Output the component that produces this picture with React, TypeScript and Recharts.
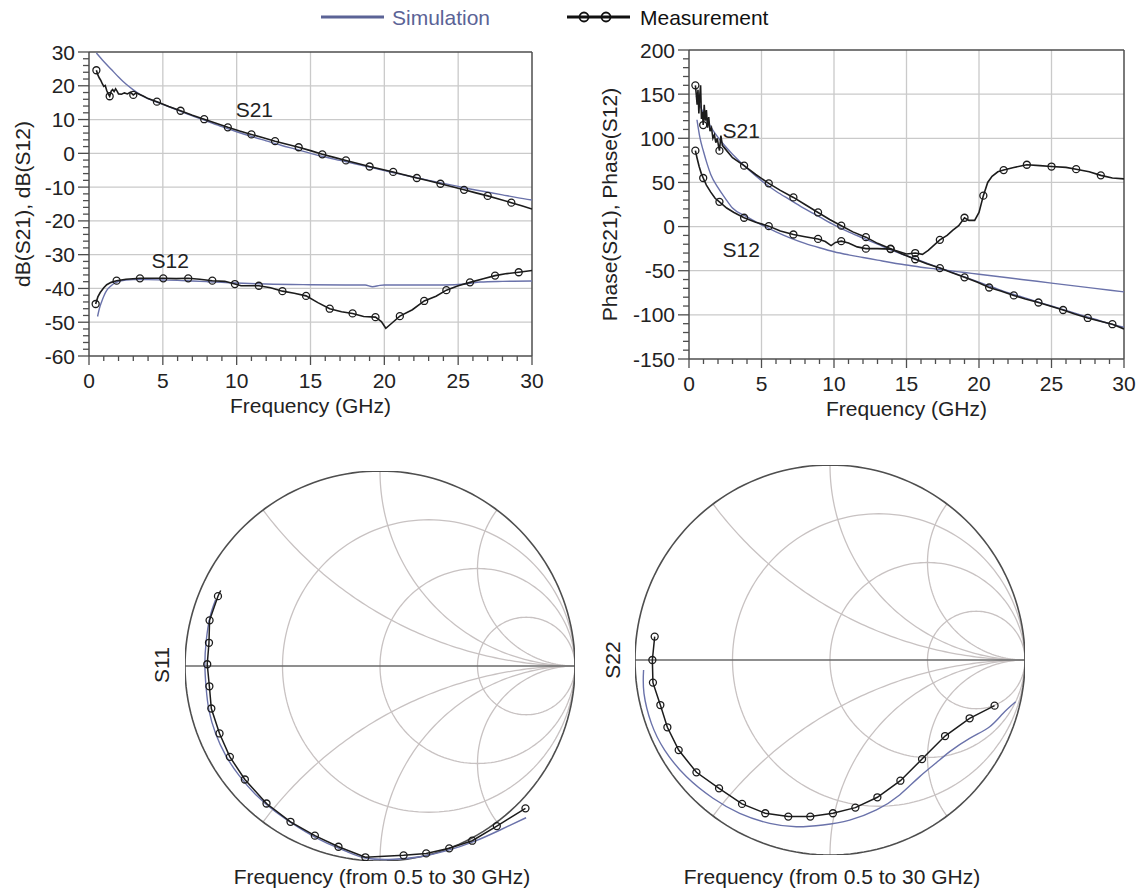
import React from 'react';
import { ComposedChart, Line, Scatter, XAxis, YAxis, ReferenceLine, ReferenceDot } from 'recharts';

const FONT = '"Liberation Sans", Arial, Helvetica, sans-serif';
const SIM = '#6a72aa';
const SIM_TXT = '#5b6396';
const MEAS = '#1c1c1c';
const AXIS = '#4e4e4e';
const GRID = '#cacaca';
const SMITH_GRID = '#c8c2c2';
const TXT = '#222222';

// ---------- Panel 1: dB(S21), dB(S12) ----------
const dbS21Sim = [[0.5,29.7],[1,27.2],[1.5,24.9],[2,22.6],[2.5,20.5],[3,18.8],[3.5,17.3],[4,16.2],[5,14.5],[6,12.8],[7,11.1],[8,9.5],[9,7.9],[10,6.4],[11,5.0],[12,3.7],[13,2.4],[14,1.2],[15,0.0],[16,-1.1],[17,-2.1],[18,-3.1],[19,-4.1],[20,-5.1],[21,-6.1],[22,-7.0],[23,-8.0],[24,-8.9],[25,-9.8],[26,-10.7],[27,-11.5],[28,-12.3],[29,-13.1],[30,-13.8]];
const dbS21Meas = [[0.5,24.6],[0.6,23.2],[0.7,22.3],[0.8,21.6],[0.9,20.6],[1.0,19.8],[1.1,20.1],[1.2,18.6],[1.3,17.6],[1.4,16.9],[1.5,18.4],[1.6,18.9],[1.7,18.3],[1.8,19.1],[1.9,18.4],[2.0,17.6],[2.2,17.5],[2.4,17.9],[2.6,17.6],[2.8,18.1],[3.0,17.3],[3.2,17.9],[3.4,17.5],[3.7,16.9],[4.0,16.2],[4.6,15.3],[5.4,13.9],[6.2,12.6],[7.0,11.3],[7.8,10.1],[8.6,8.9],[9.4,7.7],[10.2,6.6],[11.0,5.6],[11.8,4.6],[12.6,3.6],[13.4,2.7],[14.2,1.8],[15.0,0.8],[15.8,-0.3],[16.6,-1.2],[17.4,-2.1],[18.2,-3.0],[19.0,-3.9],[19.8,-4.7],[20.6,-5.5],[21.4,-6.4],[22.2,-7.3],[23.0,-8.1],[23.8,-9.0],[24.6,-9.9],[25.4,-10.8],[26.2,-11.7],[27.0,-12.6],[27.8,-13.6],[28.6,-14.6],[29.3,-15.5],[30,-16.5]];
const dbS21Markers = [[0.5,24.6],[1.4,16.9],[3.0,17.3],[4.6,15.3],[6.2,12.6],[7.8,10.1],[9.4,7.7],[11.0,5.6],[12.6,3.6],[14.2,1.8],[15.8,-0.3],[17.4,-2.1],[19.0,-3.9],[20.6,-5.5],[22.2,-7.3],[23.8,-9.0],[25.4,-10.8],[27.0,-12.6],[28.6,-14.6]];
const dbS12Sim = [[0.58,-48.3],[0.7,-46],[0.85,-44],[1.0,-42.3],[1.2,-40.6],[1.5,-39.2],[1.8,-38.3],[2.1,-37.8],[2.5,-37.5],[3,-37.4],[4,-37.4],[5,-37.5],[6,-37.6],[7,-37.8],[8,-38.0],[9,-38.2],[10,-38.4],[12,-38.7],[15,-38.9],[18,-39.0],[18.7,-39.0],[19.2,-39.5],[19.7,-39.1],[20,-39.0],[24,-39.0],[25.5,-38.7],[26.5,-38.1],[28,-37.9],[30,-37.8]];
const dbS12Meas = [[0.45,-44.6],[0.6,-42.5],[0.76,-41.2],[1.0,-39.8],[1.2,-38.9],[1.5,-38.2],[1.87,-37.7],[2.5,-37.3],[3.45,-37.0],[4.2,-37.0],[5.03,-37.0],[5.9,-37.1],[6.72,-37.0],[7.5,-37.3],[8.35,-37.7],[9.2,-37.9],[9.88,-38.7],[10.3,-39.2],[11.5,-39.2],[12.3,-39.8],[13.1,-40.8],[13.9,-41.4],[14.7,-42.2],[15.5,-44.2],[16.3,-46.0],[17.1,-46.9],[17.85,-47.4],[18.6,-48.3],[19.4,-48.5],[19.8,-49.8],[20.1,-51.8],[20.5,-50.3],[21.05,-48.2],[21.9,-46.3],[22.7,-43.7],[23.5,-42.3],[24.2,-40.5],[25.0,-39.2],[25.8,-38.2],[26.7,-37.1],[27.5,-36.2],[28.3,-35.6],[29.1,-35.2],[30,-34.7]];
const dbS12Markers = [[0.45,-44.6],[1.87,-37.7],[3.45,-37.0],[5.03,-37.0],[6.72,-37.0],[8.35,-37.7],[9.88,-38.7],[11.5,-39.2],[13.1,-40.8],[14.7,-42.2],[16.3,-46.0],[17.85,-47.4],[19.4,-48.5],[21.05,-48.2],[22.7,-43.7],[24.2,-40.5],[25.8,-38.2],[27.5,-36.2],[29.1,-35.2]];

// ---------- Panel 2: Phase(S21), Phase(S12) ----------
const phS21Sim = [[0.5,148],[1,128],[1.5,113],[2,101],[2.5,91],[3,82],[4,66],[5,52],[6,40],[7,30],[8,20],[9,11],[10,2],[11,-6],[12,-13],[13,-20],[14,-27],[15,-33],[16,-39],[17,-45],[18,-51],[19,-57],[20,-63],[21,-69],[22,-75],[23,-80],[24,-85],[25,-90],[26,-95],[27,-100],[28,-105],[29,-110],[30,-114]];
const phS21Meas = [[0.44,160],[0.5,150],[0.56,138],[0.62,155],[0.68,128],[0.74,148],[0.8,160],[0.86,122],[0.92,130],[0.98,115],[1.05,138],[1.12,120],[1.2,132],[1.28,112],[1.36,124],[1.45,108],[1.55,112],[1.65,100],[1.75,104],[1.85,95],[1.95,100],[2.05,90],[2.1,86],[2.2,103],[2.3,92],[2.5,88],[3.0,78],[3.8,69],[4.6,59],[5.5,49],[6.3,41],[7.2,33],[8.0,25],[8.9,16],[9.7,8],[10.5,1],[11.3,-6],[12.2,-12],[13.0,-19],[13.9,-25],[14.7,-31],[15.6,-37],[16.4,-42],[17.3,-47],[18.1,-52],[19.0,-57.5],[19.9,-63],[20.7,-69],[21.5,-73],[22.4,-78],[23.2,-82],[24.1,-86],[24.9,-90],[25.8,-94.5],[26.6,-99],[27.5,-103.5],[28.3,-107],[29.2,-110.6],[30,-116]];
const phS21Markers = [[0.44,160],[0.98,115],[2.1,86],[3.8,69],[5.5,49],[7.2,33],[8.9,16],[10.5,1],[12.2,-12],[13.9,-25],[15.6,-37],[17.3,-47],[19.0,-57.5],[20.7,-69],[22.4,-78],[24.1,-86],[25.8,-94.5],[27.5,-103.5],[29.2,-110.6]];
const phS12Sim = [[0.55,121],[0.75,101],[1.0,85],[1.25,71],[1.5,59],[2.0,44],[2.5,32],[3.0,21],[4.0,11],[5.0,2],[6.0,-6],[7.0,-13],[8.0,-19],[9.0,-24],[10.0,-28.5],[11.0,-32],[12.0,-35],[13.0,-38],[14.0,-41],[15.0,-43.5],[16.0,-46],[17.0,-48],[18.0,-50],[19.0,-52],[20.0,-54],[22.0,-58],[24.0,-62],[26.0,-66],[28.0,-70],[30.0,-74]];
const phS12Meas = [[0.44,86],[0.55,78],[0.7,68],[0.85,60],[0.98,55],[1.2,47],[1.5,39],[1.8,32],[2.1,28],[2.6,21],[3.1,16],[3.8,10],[4.6,5],[5.5,0.5],[6.3,-5],[7.2,-9],[8.0,-11.5],[8.9,-14],[9.4,-17],[9.8,-21.5],[10.1,-18],[10.5,-16.5],[11.0,-18.5],[11.6,-23],[12.2,-25],[13.0,-25],[13.9,-25.5],[14.4,-28],[15.0,-31],[15.6,-30],[16.1,-31.5],[16.5,-27],[17.3,-15],[17.8,-10],[18.2,-4],[18.6,1],[19.0,10],[19.3,7],[19.7,7],[20.0,16],[20.3,35],[20.6,50],[20.9,57],[21.3,62],[21.7,64],[22.4,67],[23.3,70],[24.2,69],[25.0,68],[26.0,67],[26.7,65],[27.6,62],[28.4,58],[29.2,55],[30,54]];
const phS12Markers = [[0.44,86],[0.98,55],[2.1,28],[3.8,10],[5.5,0.5],[7.2,-9],[8.9,-14],[10.5,-16.5],[12.2,-25],[13.9,-25.5],[15.6,-30],[17.3,-15],[19.0,10],[20.3,35],[21.7,64],[23.3,70],[25.0,68],[26.7,65],[28.4,58]];

// ---------- Smith charts (reflection coefficient, re/im) ----------
const s11Meas = [[-0.817,0.387],[-0.831,0.358],[-0.874,0.234],[-0.877,0.119],[-0.886,0.009],[-0.875,-0.104],[-0.865,-0.218],[-0.823,-0.346],[-0.770,-0.466],[-0.693,-0.582],[-0.582,-0.705],[-0.459,-0.799],[-0.334,-0.870],[-0.213,-0.927],[-0.075,-0.981],[0.121,-0.971],[0.237,-0.961],[0.355,-0.935],[0.473,-0.896],[0.599,-0.821],[0.746,-0.730]];
const s11Markers = [[-0.831,0.358],[-0.874,0.234],[-0.877,0.119],[-0.886,0.009],[-0.875,-0.104],[-0.865,-0.218],[-0.823,-0.346],[-0.770,-0.466],[-0.693,-0.582],[-0.582,-0.705],[-0.459,-0.799],[-0.334,-0.870],[-0.213,-0.927],[-0.075,-0.981],[0.121,-0.971],[0.237,-0.961],[0.355,-0.935],[0.473,-0.896],[0.599,-0.821],[0.746,-0.730]];
const s11Sim = [[-0.843,0.340],[-0.872,0.251],[-0.891,0.131],[-0.898,0.012],[-0.892,-0.108],[-0.877,-0.227],[-0.843,-0.346],[-0.792,-0.457],[-0.724,-0.560],[-0.638,-0.659],[-0.536,-0.747],[-0.416,-0.829],[-0.288,-0.901],[-0.169,-0.952],[-0.067,-0.986],[0.070,-0.991],[0.206,-0.978],[0.343,-0.947],[0.480,-0.901],[0.616,-0.841],[0.749,-0.778]];
const s22Meas = [[-0.899,0.120],[-0.911,0],[-0.908,-0.116],[-0.870,-0.231],[-0.834,-0.345],[-0.776,-0.462],[-0.685,-0.576],[-0.569,-0.658],[-0.451,-0.738],[-0.332,-0.786],[-0.214,-0.803],[-0.101,-0.803],[0.015,-0.786],[0.130,-0.757],[0.243,-0.704],[0.361,-0.619],[0.472,-0.508],[0.590,-0.390],[0.716,-0.299],[0.844,-0.234]];
const s22Markers = s22Meas;
const s22Sim = [[-0.956,-0.051],[-0.954,-0.171],[-0.916,-0.325],[-0.848,-0.462],[-0.737,-0.598],[-0.600,-0.709],[-0.463,-0.786],[-0.309,-0.838],[-0.173,-0.855],[-0.036,-0.846],[0.101,-0.821],[0.238,-0.769],[0.357,-0.692],[0.460,-0.598],[0.562,-0.513],[0.614,-0.470],[0.716,-0.402],[0.819,-0.342],[0.887,-0.274],[0.952,-0.214]];

// ---------- axes / ticks ----------
const xMajor = [0, 5, 10, 15, 20, 25, 30];
const xMinor = Array.from({ length: 31 }, (_, i) => i);
const dbMajor = [-60, -50, -40, -30, -20, -10, 0, 10, 20, 30];
const dbMinor = Array.from({ length: 46 }, (_, i) => -60 + i * 2);
const phMajor = [-150, -100, -50, 0, 50, 100, 150, 200];
const phMinor = Array.from({ length: 36 }, (_, i) => -150 + i * 10);
const SMITH_R = [1 / 3, 1, 3];
const SMITH_X = [0.5, 1, 2];

const toXY = (a: number[][]) => a.map(([x, y]) => ({ x, y }));

const circlePts = (r: number) => {
  const c = r / (1 + r), R = 1 / (1 + r);
  return Array.from({ length: 181 }, (_, i) => {
    const t = (i * 2 * Math.PI) / 180;
    return { x: c + R * Math.cos(t), y: R * Math.sin(t) };
  });
};
const arcPts = (xv: number, sign: number) => {
  const cy = 1 / xv, R = 1 / xv;
  const px = (xv * xv - 1) / (xv * xv + 1), py = (2 * xv) / (xv * xv + 1);
  let a0 = Math.atan2(py - cy, px - 1);
  if (a0 < 0) a0 += 2 * Math.PI;
  const a1 = 1.5 * Math.PI;
  return Array.from({ length: 91 }, (_, i) => {
    const a = a0 + ((a1 - a0) * i) / 90;
    return { x: 1 + R * Math.cos(a), y: sign * (cy + R * Math.sin(a)) };
  });
};

const Marker = (props: any) => {
  const { cx, cy } = props;
  if (cx == null || cy == null) return <g />;
  return <circle cx={cx} cy={cy} r={3.5} fill="none" stroke={MEAS} strokeWidth={1.3} />;
};

const makeXTick = (majors: number[]) => (props: any) => {
  const { x, y, payload } = props;
  const v = payload.value;
  const major = majors.includes(v);
  return (
    <g>
      <line x1={x} y1={y} x2={x} y2={y + (major ? 9 : 5)} stroke={AXIS} strokeWidth={1.3} />
      {major && (
        <text x={x} y={y + 32} textAnchor="middle" fontSize={21} fontFamily={FONT} fill={TXT}>
          {v}
        </text>
      )}
    </g>
  );
};
const makeYTick = (majors: number[]) => (props: any) => {
  const { x, y, payload } = props;
  const v = payload.value;
  const major = majors.includes(v);
  return (
    <g>
      <line x1={x - (major ? 11 : 6)} y1={y} x2={x} y2={y} stroke={AXIS} strokeWidth={1.3} />
      {major && (
        <text x={x - 14} y={y} dy="0.36em" textAnchor="end" fontSize={21} fontFamily={FONT} fill={TXT}>
          {v}
        </text>
      )}
    </g>
  );
};

type RectProps = {
  left: number; width: number; height: number; top: number; right: number; bottom: number;
  yWidth: number; xHeight: number; yDomain: [number, number]; yMinor: number[]; yMajor: number[];
  xTitle: string; yTitle: string; yTitleX: number;
  simA: number[][]; simB: number[][]; measA: number[][]; measB: number[][]; mkA: number[][]; mkB: number[][];
  labA: [number, number]; labB: [number, number];
};

function RectPanel(p: RectProps) {
  const hGrid = p.yMajor.filter((v) => v > p.yDomain[0] && v < p.yDomain[1]);
  const vGrid = xMajor.filter((v) => v > 0 && v < 30);
  return (
    <div style={{ position: 'absolute', left: p.left, top: 0 }}>
      <ComposedChart width={p.width} height={p.height} margin={{ top: p.top, right: p.right, bottom: p.bottom, left: 0 }}>
        <XAxis
          type="number" dataKey="x" domain={[0, 30]} ticks={xMinor} interval={0} allowDataOverflow
          tickSize={0} tickMargin={0} tickLine={false} tick={makeXTick(xMajor)}
          axisLine={{ stroke: AXIS, strokeWidth: 1.5 }} height={p.xHeight}
          label={(lp: any) => {
            const vb = lp.viewBox || {};
            return (
              <text x={vb.x + vb.width / 2} y={vb.y + 57} textAnchor="middle" fontSize={21} fontFamily={FONT} fill={TXT}>
                {p.xTitle}
              </text>
            );
          }}
        />
        <YAxis
          type="number" dataKey="y" domain={p.yDomain} ticks={p.yMinor} interval={0} allowDataOverflow
          tickSize={0} tickMargin={0} tickLine={false} tick={makeYTick(p.yMajor)}
          axisLine={{ stroke: AXIS, strokeWidth: 1.5 }} width={p.yWidth}
          label={(lp: any) => {
            const vb = lp.viewBox || {};
            const cx = p.yTitleX, cy = vb.y + vb.height / 2;
            return (
              <text x={cx} y={cy} dy="0.36em" transform={`rotate(-90 ${cx} ${cy})`} textAnchor="middle" fontSize={21} fontFamily={FONT} fill={TXT}>
                {p.yTitle}
              </text>
            );
          }}
        />
        {hGrid.map((v) => (
          <ReferenceLine key={'h' + v} y={v} stroke={GRID} strokeWidth={1.3} />
        ))}
        {vGrid.map((v) => (
          <ReferenceLine key={'v' + v} x={v} stroke={GRID} strokeWidth={1.3} />
        ))}
        <ReferenceLine y={p.yDomain[1]} stroke={AXIS} strokeWidth={1.5} />
        <ReferenceLine x={30} stroke={AXIS} strokeWidth={1.5} />
        <Line data={toXY(p.simA)} dataKey="y" type="monotone" stroke={SIM} strokeWidth={1.4} dot={false} isAnimationActive={false} />
        <Line data={toXY(p.simB)} dataKey="y" type="monotone" stroke={SIM} strokeWidth={1.4} dot={false} isAnimationActive={false} />
        <Line data={toXY(p.measA)} dataKey="y" type="linear" stroke={MEAS} strokeWidth={1.6} dot={false} isAnimationActive={false} />
        <Line data={toXY(p.measB)} dataKey="y" type="linear" stroke={MEAS} strokeWidth={1.6} dot={false} isAnimationActive={false} />
        <Scatter data={toXY(p.mkA)} dataKey="y" shape={Marker} isAnimationActive={false} />
        <Scatter data={toXY(p.mkB)} dataKey="y" shape={Marker} isAnimationActive={false} />
        <ReferenceDot x={p.labA[0]} y={p.labA[1]} r={0} fill="none" stroke="none"
          label={{ value: 'S21', position: 'center', fontSize: 21, fill: TXT, fontFamily: FONT }} />
        <ReferenceDot x={p.labB[0]} y={p.labB[1]} r={0} fill="none" stroke="none"
          label={{ value: 'S12', position: 'center', fontSize: 21, fill: TXT, fontFamily: FONT }} />
      </ComposedChart>
    </div>
  );
}

type SmithProps = {
  left: number; top: number; width: number; height: number;
  margin: { top: number; left: number; right: number; bottom: number };
  sim: number[][]; meas: number[][]; markers: number[][];
};

function SmithPanel(p: SmithProps) {
  const grid: { pts: { x: number; y: number }[]; k: string }[] = [];
  SMITH_R.forEach((r) => grid.push({ pts: circlePts(r), k: 'r' + r }));
  SMITH_X.forEach((xv) => {
    grid.push({ pts: arcPts(xv, 1), k: 'xp' + xv });
    grid.push({ pts: arcPts(xv, -1), k: 'xn' + xv });
  });
  return (
    <div style={{ position: 'absolute', left: p.left, top: p.top }}>
      <ComposedChart width={p.width} height={p.height} margin={p.margin}>
        <XAxis type="number" dataKey="x" domain={[-1, 1]} hide allowDataOverflow />
        <YAxis type="number" dataKey="y" domain={[-1, 1]} hide allowDataOverflow />
        {grid.map((g) => (
          <Line key={g.k} data={g.pts} dataKey="y" type="linear" stroke={SMITH_GRID} strokeWidth={1.3} dot={false} isAnimationActive={false} />
        ))}
        <ReferenceLine y={0} stroke="#6a6a6a" strokeWidth={1.5} />
        <Line data={circlePts(0)} dataKey="y" type="linear" stroke={AXIS} strokeWidth={1.6} dot={false} isAnimationActive={false} />
        <Line data={toXY(p.sim)} dataKey="y" type="natural" stroke={SIM} strokeWidth={1.4} dot={false} isAnimationActive={false} />
        <Line data={toXY(p.meas)} dataKey="y" type="linear" stroke={MEAS} strokeWidth={1.5} dot={false} isAnimationActive={false} />
        <Scatter data={toXY(p.markers)} dataKey="y" shape={Marker} isAnimationActive={false} />
      </ComposedChart>
    </div>
  );
}

export default function App() {
  return (
    <div style={{ position: 'absolute', left: 0, top: 0, width: 1141, height: 892, background: '#fff', fontFamily: FONT, overflow: 'hidden' }}>
      <RectPanel
        left={0} width={560} height={430} top={52} right={28} bottom={10} yWidth={89} xHeight={64}
        yDomain={[-60, 30]} yMinor={dbMinor} yMajor={dbMajor}
        xTitle="Frequency (GHz)" yTitle="dB(S21), dB(S12)" yTitleX={22}
        simA={dbS21Sim} simB={dbS12Sim} measA={dbS21Meas} measB={dbS12Meas} mkA={dbS21Markers} mkB={dbS12Markers}
        labA={[11.2, 13.0]} labB={[5.5, -31.8]}
      />
      <RectPanel
        left={580} width={561} height={430} top={50} right={17} bottom={7} yWidth={109} xHeight={64}
        yDomain={[-150, 200]} yMinor={phMinor} yMajor={phMajor}
        xTitle="Frequency (GHz)" yTitle="Phase(S21), Phase(S12)" yTitleX={29}
        simA={phS21Sim} simB={phS12Sim} measA={phS21Meas} measB={phS12Meas} mkA={phS21Markers} mkB={phS12Markers}
        labA={[3.6, 109]} labB={[3.6, -26.5]}
      />
      <SmithPanel left={140} top={440} width={450} height={452} margin={{ top: 31, left: 45, right: 15, bottom: 31 }}
        sim={s11Sim} meas={s11Meas} markers={s11Markers} />
      <SmithPanel left={590} top={440} width={451} height={452} margin={{ top: 25, left: 45, right: 16, bottom: 37 }}
        sim={s22Sim} meas={s22Meas} markers={s22Markers} />
      <svg width={1141} height={892} style={{ position: 'absolute', left: 0, top: 0, pointerEvents: 'none' }}>
        <line x1={321} y1={17} x2={384} y2={17} stroke={SIM_TXT} strokeWidth={3} />
        <text x={392} y={24.5} fontSize={21} fontFamily={FONT} fill={SIM_TXT}>Simulation</text>
        <line x1={567} y1={17} x2={630} y2={17} stroke="#111" strokeWidth={3} />
        <circle cx={584} cy={17} r={4.5} fill="none" stroke="#111" strokeWidth={1.8} />
        <circle cx={606} cy={17} r={4.5} fill="none" stroke="#111" strokeWidth={1.8} />
        <text x={640} y={24.5} fontSize={21} fontFamily={FONT} fill="#111">Measurement</text>
        <text x={161} y={665} dy="0.36em" transform="rotate(-90 161 665)" textAnchor="middle" fontSize={21} fontFamily={FONT} fill={TXT}>S11</text>
        <text x={612} y={660} dy="0.36em" transform="rotate(-90 612 660)" textAnchor="middle" fontSize={21} fontFamily={FONT} fill={TXT}>S22</text>
        <text x={382} y={884} textAnchor="middle" fontSize={21} fontFamily={FONT} fill={TXT}>Frequency (from 0.5 to 30 GHz)</text>
        <text x={832} y={884} textAnchor="middle" fontSize={21} fontFamily={FONT} fill={TXT}>Frequency (from 0.5 to 30 GHz)</text>
      </svg>
    </div>
  );
}
